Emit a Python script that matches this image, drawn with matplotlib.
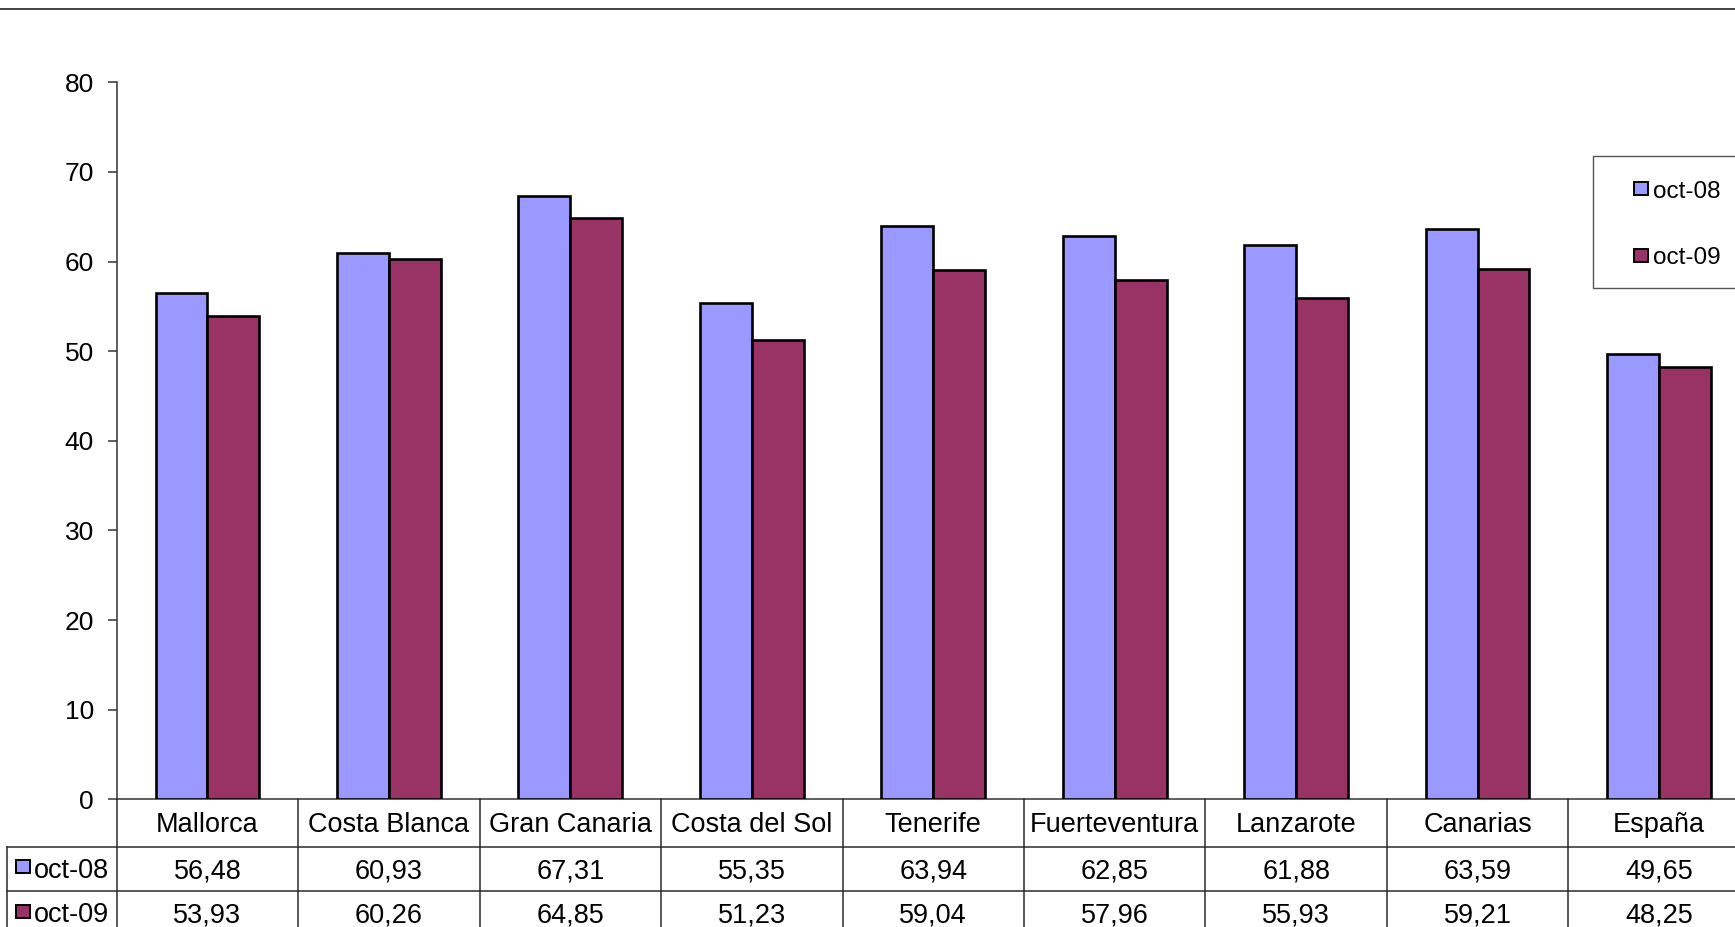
import matplotlib
matplotlib.use("Agg")
import matplotlib.pyplot as plt
from matplotlib.patches import Rectangle
from matplotlib.lines import Line2D
from matplotlib.transforms import blended_transform_factory

categories = ["Mallorca", "Costa Blanca", "Gran Canaria", "Costa del Sol", "Tenerife",
              "Fuerteventura", "Lanzarote", "Canarias", "España"]
series_names = ["oct-08", "oct-09"]
oct08 = [56.48, 60.93, 67.31, 55.35, 63.94, 62.85, 61.88, 63.59, 49.65]
oct09 = [53.93, 60.26, 64.85, 51.23, 59.04, 57.96, 55.93, 59.21, 48.25]
yticks = [0, 10, 20, 30, 40, 50, 60, 70, 80]

colors = ["#9999FF", "#993366"]
W, H = 1735, 927
plt.rcParams['font.family'] = ['Liberation Sans', 'DejaVu Sans']

fig = plt.figure(figsize=(W / 100, H / 100), dpi=100)
fig.patch.set_facecolor("white")

def X(px):
    return px / W

def Y(py):
    return 1 - py / H

ax_left, ax_top, ax_bottom = 116.7, 82.3, 799.3
cat_w = 181.45
ax = fig.add_axes([X(ax_left), Y(ax_bottom), len(categories) * cat_w / W, (ax_bottom - ax_top) / H])

bw = 1 / 3.5
xs = list(range(len(categories)))
for k, (vals, col) in enumerate(zip([oct08, oct09], colors)):
    off = (k - 0.5) * bw
    ax.bar([x + off for x in xs], vals, width=bw, color=col, edgecolor="black", linewidth=1.9, zorder=3)

ax.set_xlim(-0.5, len(categories) - 0.5)
ax.set_ylim(0, 80)
ax.set_yticks(yticks)
ax.set_yticklabels([str(t) for t in yticks], fontsize=19)
ax.tick_params(axis='y', direction='out', length=6.5, width=1.1, color="#333333", pad=10)
ax.set_xticks([])
for s in ["top", "right"]:
    ax.spines[s].set_visible(False)
for s in ["left", "bottom"]:
    ax.spines[s].set_color("#333333")
    ax.spines[s].set_linewidth(1.1)

# top frame line
fig.add_artist(Line2D([0, 1], [Y(9.3), Y(9.3)], transform=fig.transFigure, color="#222222", lw=1.2))

# data table
tr = blended_transform_factory(ax.transData, fig.transFigure)
lc, lw = "#2a2a2a", 1.1
row_lines = [847.3, 891.0, 934.7]
for i in range(len(categories) + 1):
    fig.add_artist(Line2D([i - 0.5, i - 0.5], [Y(ax_bottom), Y(H + 10)], transform=tr, color=lc, lw=lw))
for ry in row_lines:
    fig.add_artist(Line2D([X(6.7), 1.05], [Y(ry), Y(ry)], transform=fig.transFigure, color=lc, lw=lw))
fig.add_artist(Line2D([X(6.7), X(6.7)], [Y(847.3), Y(H + 10)], transform=fig.transFigure, color=lc, lw=lw))

fs = 19.5
for i, c in enumerate(categories):
    fig.text(i, Y(832.5), c, transform=tr, ha="center", va="baseline", fontsize=fs)
rows = [oct08, oct09]
row_base = [878.4, 922.1]
for r, vals in enumerate(rows):
    for i, v in enumerate(vals):
        fig.text(i, Y(row_base[r]), f"{v:.2f}".replace(".", ","), transform=tr,
                 ha="center", va="baseline", fontsize=fs)
    sq_top = [860, 904.5][r]
    fig.add_artist(Rectangle((X(15.5), Y(sq_top + 13)), 14 / W, 13 / H, transform=fig.transFigure,
                             facecolor=colors[r], edgecolor="black", lw=1.4))
    fig.text(X(34), Y(row_base[r]), series_names[r], ha="left", va="baseline", fontsize=fs)

# legend
fig.add_artist(Rectangle((X(1593.3), Y(287.7)), (1800 - 1593.3) / W, (287.7 - 155.7) / H,
                         transform=fig.transFigure, facecolor="white", edgecolor="#555555", lw=1.0))
leg_sq = [182, 248.5]
leg_base = [197.5, 263.5]
for r in range(2):
    fig.add_artist(Rectangle((X(1633.5), Y(leg_sq[r] + 13)), 14 / W, 13 / H, transform=fig.transFigure,
                             facecolor=colors[r], edgecolor="black", lw=1.4))
    fig.text(X(1653), Y(leg_base[r]), series_names[r], ha="left", va="baseline", fontsize=17.5)

fig.savefig("out.png", dpi=100, facecolor="white")
